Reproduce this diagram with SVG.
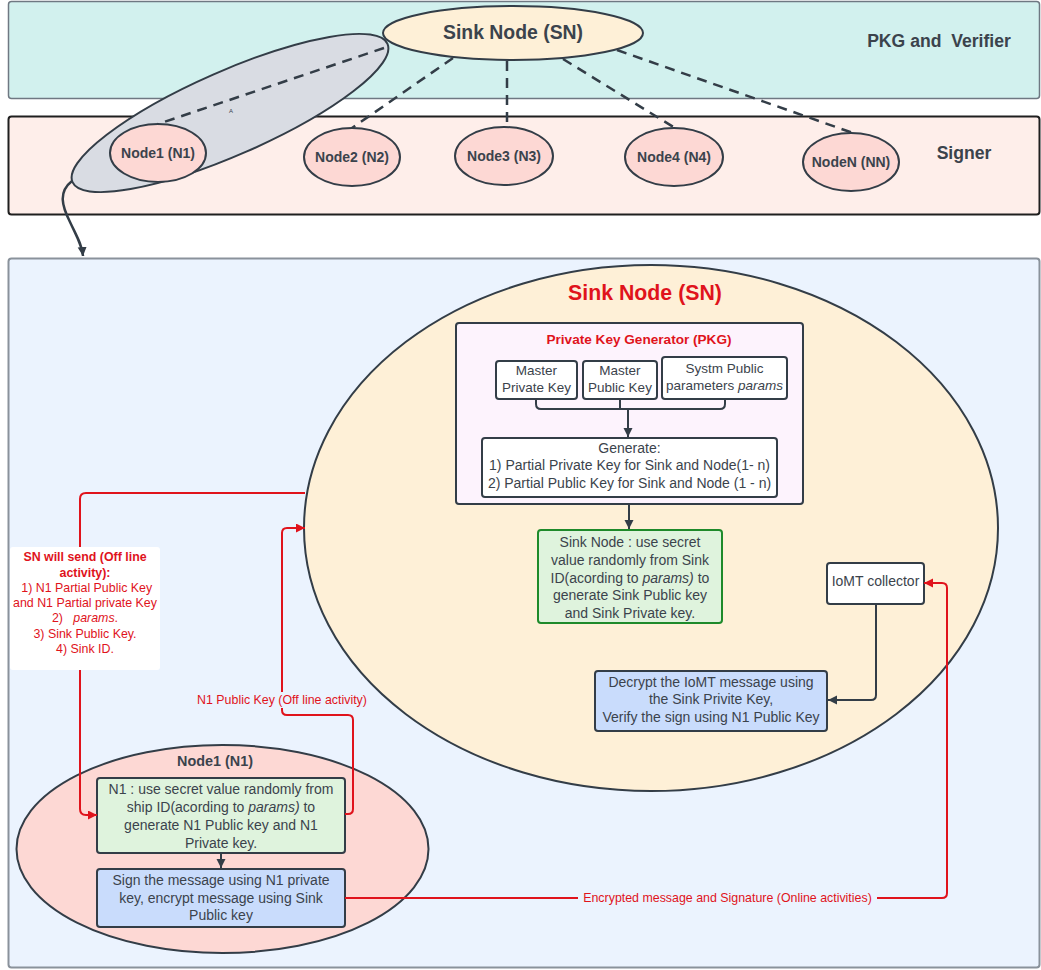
<svg xmlns="http://www.w3.org/2000/svg" width="1041" height="970" viewBox="0 0 1041 970">
<style>
text{font-family:"Liberation Sans",Arial,sans-serif;fill:#3b434c}
.b{font-weight:bold}
.r{fill:#e0131c}
.t14{font-size:14px}
.t13{font-size:13.5px}
.t12{font-size:12.4px}
.node{fill:#fdd8d4;stroke:#333d47;stroke-width:2}
.dash{stroke:#333d47;stroke-width:2.5;stroke-dasharray:10 7;fill:none}
.dk{stroke:#333d47;stroke-width:2;fill:none}
.red{stroke:#e0131c;stroke-width:2;fill:none}
.box{stroke:#333d47;stroke-width:2}
</style>
<defs>
<marker id="ad" markerUnits="userSpaceOnUse" markerWidth="10" markerHeight="10" refX="9" refY="4.5" orient="auto"><path d="M0,0 L9,4.5 L0,9 z" fill="#333d47"/></marker>
<marker id="ar" markerUnits="userSpaceOnUse" markerWidth="10" markerHeight="10" refX="9" refY="4.5" orient="auto"><path d="M0,0 L9,4.5 L0,9 z" fill="#e0131c"/></marker>
</defs>

<g id="bands">
<rect x="8.5" y="1.5" width="1031" height="97" rx="3" fill="#d2f1ee" stroke="#6f7882" stroke-width="1.5"/>
<rect x="8.5" y="116.5" width="1031" height="98" rx="3" fill="#feeeea" stroke="#1f1f1f" stroke-width="2"/>
<rect x="8.5" y="258.5" width="1031" height="709" rx="3" fill="#ebf3fe" stroke="#8a929b" stroke-width="2"/>
<text class="b" x="939" y="47" text-anchor="middle" font-size="17.6" xml:space="preserve">PKG and  Verifier</text>
<text class="b" x="964" y="159" text-anchor="middle" font-size="17.6">Signer</text>
</g>

<g id="sink-top">
<ellipse cx="513" cy="33" rx="130" ry="27" fill="#fef0d7" stroke="#333d47" stroke-width="2"/>
<text class="b" x="513" y="39" text-anchor="middle" font-size="19.4">Sink Node (SN)</text>
</g>

<g id="n1-group">
<ellipse cx="230" cy="113" rx="172" ry="42" transform="rotate(-23.7 230 113)" fill="#d9dce3" stroke="#333d47" stroke-width="2"/>
<text x="229" y="113" font-size="6" fill="#555">A</text>
</g>

<g id="node1"><ellipse class="node" cx="158" cy="153" rx="48" ry="29"/><text class="b t14" x="158" y="158" text-anchor="middle">Node1 (N1)</text></g>
<g id="node2"><ellipse class="node" cx="352" cy="157" rx="48" ry="29"/><text class="b t14" x="352" y="162" text-anchor="middle">Node2 (N2)</text></g>
<g id="node3"><ellipse class="node" cx="504" cy="156" rx="49" ry="29"/><text class="b t14" x="504" y="161" text-anchor="middle">Node3 (N3)</text></g>
<g id="node4"><ellipse class="node" cx="674" cy="157" rx="49" ry="29"/><text class="b t14" x="674" y="162" text-anchor="middle">Node4 (N4)</text></g>
<g id="nodeN"><ellipse class="node" cx="851" cy="162" rx="48" ry="29"/><text class="b t14" x="851" y="167" text-anchor="middle">NodeN (NN)</text></g>

<g id="sink-big">
<ellipse cx="651" cy="528" rx="347" ry="263" fill="#fef0d7" stroke="#333d47" stroke-width="2"/>
<text class="b r" x="645" y="300" text-anchor="middle" font-size="21.3">Sink Node (SN)</text>
</g>

<g id="pkg">
<rect x="456" y="323" width="347" height="181" rx="3" fill="#fdf3fd" class="box"/>
<text class="b r" x="639" y="344" text-anchor="middle" font-size="13.6">Private Key Generator (PKG)</text>
</g>
<g id="master-private">
<rect x="496" y="361" width="81" height="38" rx="3" fill="#ffffff" class="box"/>
<text class="t13" x="536.5" y="375" text-anchor="middle">Master</text>
<text class="t13" x="536.5" y="392" text-anchor="middle">Private Key</text>
</g>
<g id="master-public">
<rect x="583" y="361" width="74" height="38" rx="3" fill="#ffffff" class="box"/>
<text class="t13" x="620" y="375" text-anchor="middle">Master</text>
<text class="t13" x="620" y="392" text-anchor="middle">Public Key</text>
</g>
<g id="params">
<rect x="662" y="357" width="125" height="42" rx="3" fill="#ffffff" class="box"/>
<text class="t13" x="724.5" y="373" text-anchor="middle">Systm Public</text>
<text class="t13" x="724.5" y="390" text-anchor="middle">parameters <tspan font-style="italic">params</tspan></text>
</g>
<g id="generate">
<rect x="482" y="438" width="295" height="59" rx="3" fill="#ffffff" class="box"/>
<text class="t14" x="629.5" y="453" text-anchor="middle">Generate:</text>
<text class="t14" x="629.5" y="470" text-anchor="middle">1) Partial Private Key for Sink and Node(1- n)</text>
<text class="t14" x="629.5" y="488" text-anchor="middle">2) Partial Public Key for Sink and Node (1 - n)</text>
</g>
<g id="sink-keys">
<rect x="538" y="530" width="184" height="93" rx="3" fill="#dff3dd" stroke="#1e8a2a" stroke-width="2"/>
<text class="t14" x="630" y="547" text-anchor="middle">Sink Node : use secret</text>
<text class="t14" x="630" y="565" text-anchor="middle">value randomly from Sink</text>
<text class="t14" x="630" y="583" text-anchor="middle">ID(acording to <tspan font-style="italic">params)</tspan> to</text>
<text class="t14" x="630" y="600" text-anchor="middle">generate Sink Public key</text>
<text class="t14" x="630" y="618" text-anchor="middle">and Sink Private key.</text>
</g>
<g id="iomt">
<rect x="827" y="563" width="97" height="41" rx="3" fill="#ffffff" class="box"/>
<text class="t14" x="875.5" y="586" text-anchor="middle">IoMT collector</text>
</g>
<g id="decrypt">
<rect x="595" y="671" width="232" height="60" rx="3" fill="#c9dcfc" class="box"/>
<text class="t14" x="711" y="687" text-anchor="middle">Decrypt the IoMT message using</text>
<text class="t14" x="711" y="704" text-anchor="middle">the Sink Privite Key,</text>
<text class="t14" x="711" y="722" text-anchor="middle">Verify the sign using N1 Public Key</text>
</g>

<g id="node1-detail">
<ellipse cx="222.5" cy="849" rx="206" ry="104" fill="#fdd8d4" stroke="#333d47" stroke-width="2"/>
<text class="b" x="215" y="766" text-anchor="middle" font-size="14.4">Node1 (N1)</text>
</g>
<g id="n1-keys">
<rect x="97" y="778" width="248" height="75" rx="3" fill="#dff3dd" class="box"/>
<text class="t14" x="221" y="794" text-anchor="middle">N1 : use secret value randomly from</text>
<text class="t14" x="221" y="812" text-anchor="middle">ship ID(acording to <tspan font-style="italic">params)</tspan> to</text>
<text class="t14" x="221" y="830" text-anchor="middle">generate N1 Public key and N1</text>
<text class="t14" x="221" y="848" text-anchor="middle">Private key.</text>
</g>
<g id="sign">
<rect x="97" y="869" width="248" height="58" rx="3" fill="#c9dcfc" class="box"/>
<text class="t14" x="221" y="885" text-anchor="middle">Sign the message using N1 private</text>
<text class="t14" x="221" y="903" text-anchor="middle">key, encrypt message using Sink</text>
<text class="t14" x="221" y="920" text-anchor="middle">Public key</text>
</g>

<g id="connectors">
<path class="dash" d="M384,48 L158,124"/>
<path class="dash" d="M453,58 L352,128"/>
<path class="dash" d="M507,61 L507,127"/>
<path class="dash" d="M563,59 L675,128"/>
<path class="dash" d="M617,50 L853,133"/>
<path d="M72,181 C58,192 62,206 70,222 C77,237 82,245 83,256" stroke="#333d47" stroke-width="2.5" fill="none" marker-end="url(#ad)"/>

<path class="dk" d="M536,399 V404 Q536,409 541,409 H720 Q725,409 725,404 V399 M620,399 V409"/>
<path class="dk" d="M628,409 V437" marker-end="url(#ad)"/>
<path class="dk" d="M629,504 V529" marker-end="url(#ad)"/>
<path class="dk" d="M876,604 V695 Q876,700 871,700 H828" marker-end="url(#ad)"/>
<path class="dk" d="M221,853 V868" marker-end="url(#ad)"/>

<path class="red" d="M305,493 H86 Q80,493 80,499 V809 Q80,815 86,815 H97" marker-end="url(#ar)"/>
<path class="red" d="M345,814 H348 Q353,814 353,809 V720 Q353,715 348,715 H287 Q282,715 282,710 V533 Q282,528 287,528 H305" marker-end="url(#ar)"/>
<path class="red" d="M345,898 H942 Q947,898 947,893 V588 Q947,583 942,583 H924" marker-end="url(#ar)"/>

<rect x="10" y="547" width="150" height="123" rx="3" fill="#ffffff"/>
<text class="b r t12" x="85" y="561" text-anchor="middle">SN will send (Off line</text>
<text class="b r t12" x="85" y="577" text-anchor="middle">activity):</text>
<text class="r t12" x="85" y="592" text-anchor="middle" xml:space="preserve"> 1) N1 Partial Public Key</text>
<text class="r t12" x="85" y="607" text-anchor="middle">and N1 Partial private Key</text>
<text class="r t12" x="85" y="622" text-anchor="middle" xml:space="preserve">2)   <tspan font-style="italic">params</tspan>.</text>
<text class="r t12" x="85" y="638" text-anchor="middle">3) Sink Public Key.</text>
<text class="r t12" x="85" y="653" text-anchor="middle">4) Sink ID.</text>

<rect x="196" y="692" width="172" height="16" fill="#ebf3fe"/>
<text class="r t12" x="282" y="704" text-anchor="middle">N1 Public Key (Off line activity)</text>

<rect x="578" y="890" width="299" height="16" fill="#ebf3fe"/>
<text class="r t12" x="727.5" y="902" text-anchor="middle">Encrypted message and Signature (Online activities)</text>
</g>
</svg>
